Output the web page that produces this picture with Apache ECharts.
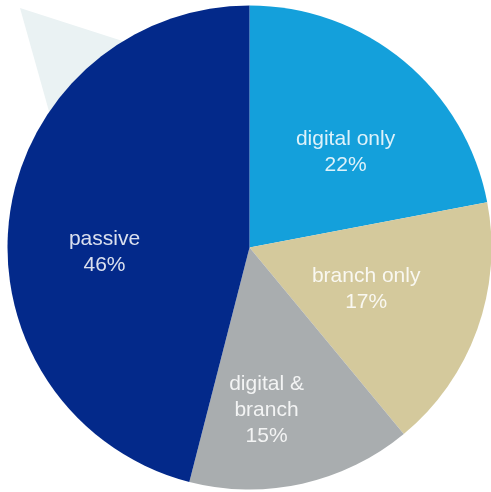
<!DOCTYPE html>
<html>
<head>
<meta charset="utf-8">
<script src="https://cdn.jsdelivr.net/npm/echarts@6/dist/echarts.min.js"></script>
<style>
  html, body { margin: 0; padding: 0; background: #ffffff; }
  #chart { width: 491px; height: 492px; }
</style>
</head>
<body>
<div id="chart"></div>
<script>
// Customer activity split
const categories = ['digital only', 'branch only', 'digital &\nbranch', 'passive'];
const shares = [22, 17, 15, 46];
const colors = ['#14a0db', '#d4c99c', '#a9adaf', '#03298a'];
// nudges from each slice's default inside label position
const labelNudges = [[17, 0], [0, 0], [-10, 42], [-22, 20]];

const chart = echarts.init(document.getElementById('chart'), null, { renderer: 'canvas' });

chart.setOption({
  animation: false,
  backgroundColor: '#ffffff',
  graphic: [{
    type: 'polygon',
    z: -1,
    shape: { points: [[20, 8], [135, 45], [50, 115]] },
    style: { fill: '#eaf2f3' }
  }],
  series: [{
    type: 'pie',
    center: [249.5, 247.5],
    radius: [0, 242],
    startAngle: 90,
    clockwise: true,
    avoidLabelOverlap: false,
    itemStyle: { borderWidth: 0 },
    label: {
      show: true,
      position: 'inside',
      formatter: p => p.name + '\n' + p.value + '%',
      color: 'rgba(255,255,255,0.86)',
      fontFamily: '"Liberation Sans", Arial, sans-serif',
      fontSize: 21,
      lineHeight: 26,
      align: 'center'
    },
    labelLine: { show: false },
    labelLayout: p => {
      const n = labelNudges[p.dataIndex];
      return { dx: n[0], dy: n[1] };
    },
    emphasis: { disabled: true },
    data: categories.map((c, i) => ({
      name: c,
      value: shares[i],
      itemStyle: { color: colors[i] }
    }))
  }]
});
</script>
</body>
</html>
